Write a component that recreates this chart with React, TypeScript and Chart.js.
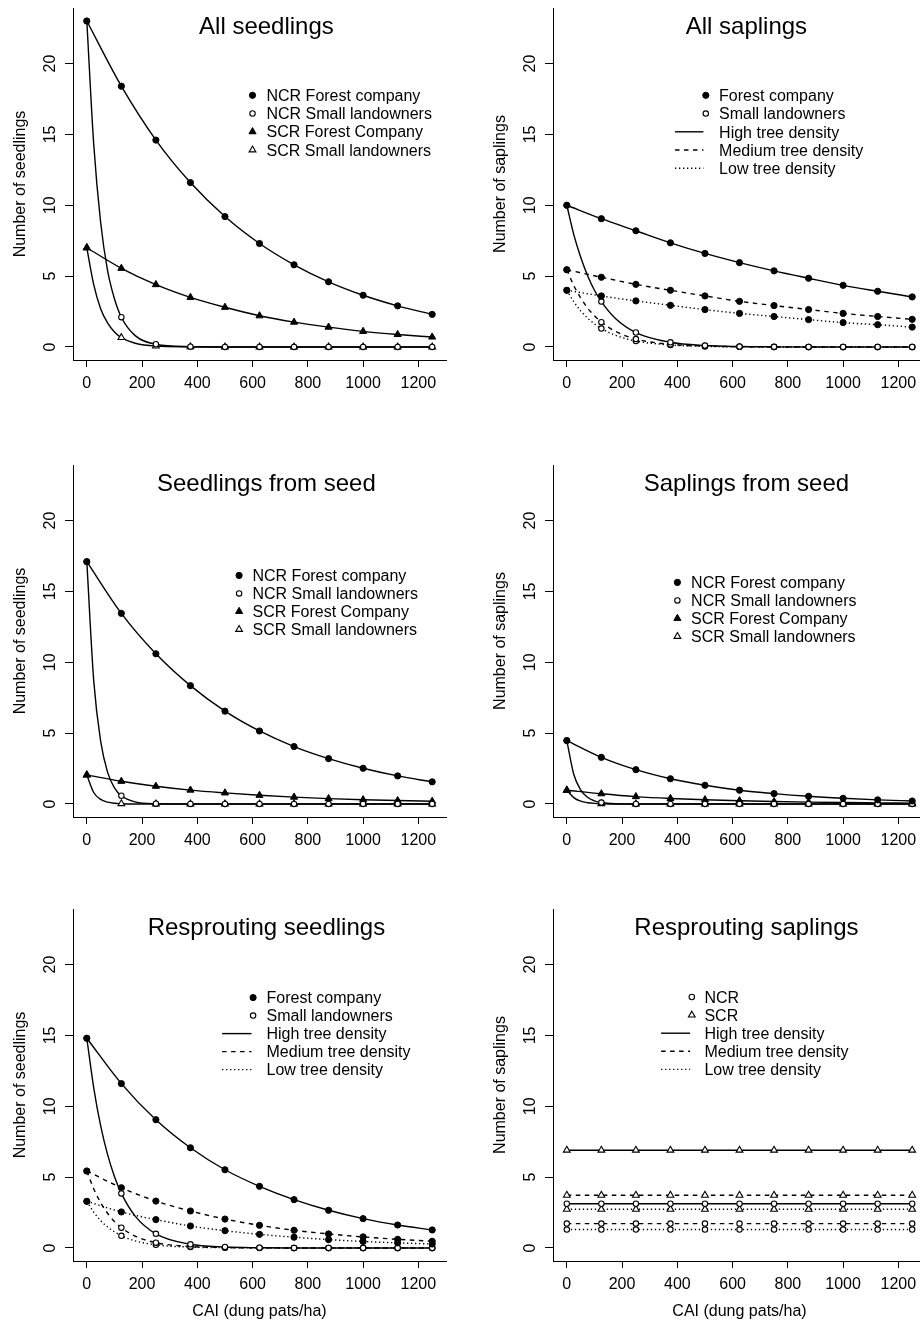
import React, { useEffect, useRef } from 'react';
import { Chart, registerables } from 'chart.js';

Chart.register(...registerables);

// ---------- data ----------
const MARKER_X = [0, 125, 250, 375, 500, 625, 750, 875, 1000, 1125, 1250];
const CURVE_X = [0, 25, 50, 75, 100, 125, 175, 250, 375, 500, 625, 750, 875, 1000, 1125, 1250];
const X_TICKS = [0, 200, 400, 600, 800, 1000, 1200];
const Y_TICKS = [0, 5, 10, 15, 20];
const X_MIN = -50;
const X_MAX = 1300;
const Y_MIN = -0.92;
const Y_MAX = 23.92;
const TITLE_X = 650;

const PANEL_TITLES = [
  'All seedlings',
  'All saplings',
  'Seedlings from seed',
  'Saplings from seed',
  'Resprouting seedlings',
  'Resprouting saplings',
];
const Y_TITLES = [
  'Number of seedlings',
  'Number of saplings',
  'Number of seedlings',
  'Number of saplings',
  'Number of seedlings',
  'Number of saplings',
];
const X_TITLE = 'CAI (dung pats/ha)';

const REGION_LABELS = ['NCR Forest company', 'NCR Small landowners', 'SCR Forest Company', 'SCR Small landowners'];
const OWNER_LABELS = ['Forest company', 'Small landowners'];
const DENSITY_LABELS = ['High tree density', 'Medium tree density', 'Low tree density'];
const ZONE_LABELS = ['NCR', 'SCR'];

// Panel 1: All seedlings
const P1_NCR_FC = [23.0, 18.4, 14.6, 11.6, 9.2, 7.3, 5.8, 4.6, 3.65, 2.9, 2.3];
const P1_NCR_SL = [23.0, 2.1, 0.19, 0.02, 0, 0, 0, 0, 0, 0, 0];
const P1_NCR_SL_CURVE = [23.0, 14.3, 8.8, 5.4, 3.4, 2.1, 0.8, 0.19, 0.02, 0, 0, 0, 0, 0, 0, 0];
const P1_SCR_FC = [7.0, 5.55, 4.4, 3.5, 2.8, 2.2, 1.75, 1.4, 1.1, 0.88, 0.7];
const P1_SCR_SL = [7.0, 0.66, 0.06, 0.01, 0, 0, 0, 0, 0, 0, 0];
const P1_SCR_SL_CURVE = [7.0, 4.4, 2.7, 1.7, 1.06, 0.66, 0.26, 0.06, 0.01, 0, 0, 0, 0, 0, 0, 0];

// Panel 2: All saplings
const P2_FC_HIGH = [10.0, 9.05, 8.2, 7.35, 6.6, 5.95, 5.37, 4.85, 4.35, 3.93, 3.53];
const P2_FC_MED = [5.45, 4.92, 4.42, 4.0, 3.6, 3.22, 2.92, 2.64, 2.37, 2.15, 1.95];
const P2_FC_LOW = [4.0, 3.6, 3.25, 2.94, 2.64, 2.37, 2.15, 1.93, 1.72, 1.57, 1.4];
const P2_SL_HIGH = [10.0, 3.2, 1.02, 0.33, 0.1, 0.03, 0.01, 0, 0, 0, 0];
const P2_SL_HIGH_CURVE = [10.0, 7.95, 6.35, 5.05, 4.0, 3.2, 2.03, 1.02, 0.33, 0.1, 0.03, 0.01, 0, 0, 0, 0];
const P2_SL_MED = [5.45, 1.75, 0.56, 0.18, 0.06, 0.02, 0, 0, 0, 0, 0];
const P2_SL_MED_CURVE = [5.45, 4.34, 3.46, 2.75, 2.2, 1.75, 1.11, 0.56, 0.18, 0.06, 0.02, 0, 0, 0, 0, 0];
const P2_SL_LOW = [4.0, 1.3, 0.42, 0.14, 0.04, 0.01, 0, 0, 0, 0, 0];
const P2_SL_LOW_CURVE = [4.0, 3.2, 2.55, 2.04, 1.63, 1.3, 0.83, 0.42, 0.14, 0.04, 0.01, 0, 0, 0, 0, 0];

// Panel 3: Seedlings from seed
const P3_NCR_FC = [17.1, 13.45, 10.6, 8.35, 6.55, 5.15, 4.05, 3.2, 2.52, 1.98, 1.56];
const P3_NCR_SL = [17.1, 0.58, 0.02, 0, 0, 0, 0, 0, 0, 0, 0];
const P3_NCR_SL_CURVE = [17.1, 8.7, 4.43, 2.25, 1.14, 0.58, 0.15, 0.02, 0, 0, 0, 0, 0, 0, 0, 0];
const P3_SCR_FC = [2.05, 1.6, 1.25, 0.98, 0.78, 0.61, 0.48, 0.38, 0.3, 0.24, 0.19];
const P3_SCR_SL = [2.05, 0.02, 0, 0, 0, 0, 0, 0, 0, 0, 0];
const P3_SCR_SL_CURVE = [2.05, 0.81, 0.32, 0.13, 0.05, 0.02, 0, 0, 0, 0, 0, 0, 0, 0, 0, 0];

// Panel 4: Saplings from seed
const P4_NCR_FC = [4.47, 3.29, 2.42, 1.78, 1.32, 0.97, 0.73, 0.54, 0.4, 0.29, 0.21];
const P4_NCR_SL = [4.47, 0.1, 0, 0, 0, 0, 0, 0, 0, 0, 0];
const P4_NCR_SL_CURVE = [4.47, 2.1, 1.0, 0.47, 0.22, 0.1, 0.02, 0, 0, 0, 0, 0, 0, 0, 0, 0];
const P4_SCR_FC = [0.97, 0.72, 0.52, 0.39, 0.3, 0.23, 0.17, 0.13, 0.1, 0.08, 0.06];
const P4_SCR_SL = [0.97, 0.02, 0, 0, 0, 0, 0, 0, 0, 0, 0];
const P4_SCR_SL_CURVE = [0.97, 0.45, 0.2, 0.09, 0.04, 0.02, 0, 0, 0, 0, 0, 0, 0, 0, 0, 0];

// Panel 5: Resprouting seedlings
const P5_FC_HIGH = [14.8, 11.6, 9.05, 7.07, 5.52, 4.35, 3.41, 2.66, 2.07, 1.62, 1.27];
const P5_FC_MED = [5.43, 4.25, 3.31, 2.61, 2.04, 1.6, 1.25, 0.99, 0.78, 0.61, 0.47];
const P5_FC_LOW = [3.29, 2.54, 2.0, 1.55, 1.22, 0.96, 0.76, 0.59, 0.46, 0.36, 0.28];
const P5_SL_HIGH = [14.8, 3.85, 1.0, 0.26, 0.07, 0.02, 0, 0, 0, 0, 0];
const P5_SL_HIGH_CURVE = [14.8, 11.3, 8.63, 6.6, 5.04, 3.85, 2.25, 1.0, 0.26, 0.07, 0.02, 0, 0, 0, 0, 0];
const P5_SL_MED = [5.43, 1.43, 0.37, 0.1, 0.03, 0.01, 0, 0, 0, 0, 0];
const P5_SL_MED_CURVE = [5.43, 4.18, 3.2, 2.45, 1.87, 1.43, 0.84, 0.37, 0.1, 0.03, 0.01, 0, 0, 0, 0, 0];
const P5_SL_LOW = [3.29, 0.86, 0.22, 0.06, 0.02, 0, 0, 0, 0, 0, 0];
const P5_SL_LOW_CURVE = [3.29, 2.53, 1.94, 1.49, 1.14, 0.86, 0.5, 0.22, 0.06, 0.02, 0, 0, 0, 0, 0, 0];

// Panel 6: Resprouting saplings
const P6_SCR_HIGH = [6.9, 6.9, 6.9, 6.9, 6.9, 6.9, 6.9, 6.9, 6.9, 6.9, 6.9];
const P6_SCR_MED = [3.72, 3.72, 3.72, 3.72, 3.72, 3.72, 3.72, 3.72, 3.72, 3.72, 3.72];
const P6_NCR_HIGH = [3.12, 3.12, 3.12, 3.12, 3.12, 3.12, 3.12, 3.12, 3.12, 3.12, 3.12];
const P6_SCR_LOW = [2.73, 2.73, 2.73, 2.73, 2.73, 2.73, 2.73, 2.73, 2.73, 2.73, 2.73];
const P6_NCR_MED = [1.72, 1.72, 1.72, 1.72, 1.72, 1.72, 1.72, 1.72, 1.72, 1.72, 1.72];
const P6_NCR_LOW = [1.3, 1.3, 1.3, 1.3, 1.3, 1.3, 1.3, 1.3, 1.3, 1.3, 1.3];

// ---------- styles ----------
type PointKind = 'cf' | 'co' | 'tf' | 'to';
type DashKind = 'solid' | 'dashed' | 'dotted';

const FONT = '"Liberation Sans", Arial, Helvetica, sans-serif';
const INK = '#000';
const LINE_W = 1.4;
const DASH: Record<DashKind, number[]> = { solid: [], dashed: [4.5, 4.5], dotted: [1.3, 2.7] };
const POINT: Record<PointKind, any> = {
  cf: { pointStyle: 'circle', radius: 3.1, bg: '#000', bw: 1 },
  co: { pointStyle: 'circle', radius: 2.7, bg: '#fff', bw: 1.1 },
  tf: { pointStyle: 'triangle', radius: 4.1, bg: '#000', bw: 1 },
  to: { pointStyle: 'triangle', radius: 3.9, bg: '#fff', bw: 1.1 },
};

const YW = 73;
const XH = 70;
const PLOT_W = 373;
const PLOT_H = 352;
const PAD_R = 10;
const COL_LEFT = [0, 480];
const ROW_TOP = [0, 440, 880];
const ROW_PAD = [8, 25, 29];

interface Series { markers: number[]; curve?: number[]; point: PointKind; dash: DashKind; }
interface LegendEntry { label: string; point?: PointKind; dash?: DashKind; }
interface LegendCfg { symX: number; textX: number; lineX0: number; lineX1: number; y0: number; dy: number; entries: LegendEntry[]; }
interface PanelCfg { idx: number; col: number; row: number; series: Series[]; legend: LegendCfg; xTitle: boolean; }

const regionLegend = (symX: number, textX: number, y0: number, dy: number): LegendCfg => ({
  symX, textX, lineX0: 0, lineX1: 0, y0, dy,
  entries: [
    { label: REGION_LABELS[0], point: 'cf' },
    { label: REGION_LABELS[1], point: 'co' },
    { label: REGION_LABELS[2], point: 'tf' },
    { label: REGION_LABELS[3], point: 'to' },
  ],
});
const densityLegend = (names: string[], pts: PointKind[], symX: number, textX: number, lineX0: number, lineX1: number, y0: number, dy: number): LegendCfg => ({
  symX, textX, lineX0, lineX1, y0, dy,
  entries: [
    { label: names[0], point: pts[0] },
    { label: names[1], point: pts[1] },
    { label: DENSITY_LABELS[0], dash: 'solid' },
    { label: DENSITY_LABELS[1], dash: 'dashed' },
    { label: DENSITY_LABELS[2], dash: 'dotted' },
  ],
});

const PANELS: PanelCfg[] = [
  {
    idx: 0, col: 0, row: 0, xTitle: false,
    series: [
      { markers: P1_NCR_FC, point: 'cf', dash: 'solid' },
      { markers: P1_NCR_SL, curve: P1_NCR_SL_CURVE, point: 'co', dash: 'solid' },
      { markers: P1_SCR_FC, point: 'tf', dash: 'solid' },
      { markers: P1_SCR_SL, curve: P1_SCR_SL_CURVE, point: 'to', dash: 'solid' },
    ],
    legend: regionLegend(179.5, 193.5, 87.3, 18.2),
  },
  {
    idx: 1, col: 1, row: 0, xTitle: false,
    series: [
      { markers: P2_FC_HIGH, point: 'cf', dash: 'solid' },
      { markers: P2_FC_MED, point: 'cf', dash: 'dashed' },
      { markers: P2_FC_LOW, point: 'cf', dash: 'dotted' },
      { markers: P2_SL_HIGH, curve: P2_SL_HIGH_CURVE, point: 'co', dash: 'solid' },
      { markers: P2_SL_MED, curve: P2_SL_MED_CURVE, point: 'co', dash: 'dashed' },
      { markers: P2_SL_LOW, curve: P2_SL_LOW_CURVE, point: 'co', dash: 'dotted' },
    ],
    legend: densityLegend(OWNER_LABELS, ['cf', 'co'], 152.8, 166.1, 122, 150.4, 87.3, 18.25),
  },
  {
    idx: 2, col: 0, row: 1, xTitle: false,
    series: [
      { markers: P3_NCR_FC, point: 'cf', dash: 'solid' },
      { markers: P3_NCR_SL, curve: P3_NCR_SL_CURVE, point: 'co', dash: 'solid' },
      { markers: P3_SCR_FC, point: 'tf', dash: 'solid' },
      { markers: P3_SCR_SL, curve: P3_SCR_SL_CURVE, point: 'to', dash: 'solid' },
    ],
    legend: regionLegend(166.1, 179.5, 110.4, 18),
  },
  {
    idx: 3, col: 1, row: 1, xTitle: false,
    series: [
      { markers: P4_NCR_FC, point: 'cf', dash: 'solid' },
      { markers: P4_NCR_SL, curve: P4_NCR_SL_CURVE, point: 'co', dash: 'solid' },
      { markers: P4_SCR_FC, point: 'tf', dash: 'solid' },
      { markers: P4_SCR_SL, curve: P4_SCR_SL_CURVE, point: 'to', dash: 'solid' },
    ],
    legend: regionLegend(124.4, 138.1, 117.4, 18),
  },
  {
    idx: 4, col: 0, row: 2, xTitle: true,
    series: [
      { markers: P5_FC_HIGH, point: 'cf', dash: 'solid' },
      { markers: P5_FC_MED, point: 'cf', dash: 'dashed' },
      { markers: P5_FC_LOW, point: 'cf', dash: 'dotted' },
      { markers: P5_SL_HIGH, curve: P5_SL_HIGH_CURVE, point: 'co', dash: 'solid' },
      { markers: P5_SL_MED, curve: P5_SL_MED_CURVE, point: 'co', dash: 'dashed' },
      { markers: P5_SL_LOW, curve: P5_SL_LOW_CURVE, point: 'co', dash: 'dotted' },
    ],
    legend: densityLegend(OWNER_LABELS, ['cf', 'co'], 180.1, 193.5, 149.1, 178.5, 88.6, 18),
  },
  {
    idx: 5, col: 1, row: 2, xTitle: true,
    series: [
      { markers: P6_SCR_HIGH, point: 'to', dash: 'solid' },
      { markers: P6_SCR_MED, point: 'to', dash: 'dashed' },
      { markers: P6_NCR_HIGH, point: 'co', dash: 'solid' },
      { markers: P6_SCR_LOW, point: 'to', dash: 'dotted' },
      { markers: P6_NCR_MED, point: 'co', dash: 'dashed' },
      { markers: P6_NCR_LOW, point: 'co', dash: 'dotted' },
    ],
    legend: densityLegend(ZONE_LABELS, ['co', 'to'], 138.8, 151.4, 108.1, 137.1, 88, 18.1),
  },
];

// ---------- drawing helpers ----------
function drawMarker(ctx: CanvasRenderingContext2D, x: number, y: number, kind: PointKind) {
  const p = POINT[kind];
  const r = p.radius;
  ctx.save();
  ctx.beginPath();
  if (p.pointStyle === 'circle') {
    ctx.arc(x, y, r, 0, Math.PI * 2);
  } else {
    const a = (2 * Math.PI) / 3;
    for (let i = 0; i < 3; i++) {
      const rad = i * a;
      const px = x + Math.sin(rad) * r;
      const py = y - Math.cos(rad) * r;
      if (i === 0) ctx.moveTo(px, py); else ctx.lineTo(px, py);
    }
    ctx.closePath();
  }
  ctx.fillStyle = p.bg;
  ctx.fill();
  ctx.lineWidth = p.bw;
  ctx.strokeStyle = INK;
  ctx.stroke();
  ctx.restore();
}

function overlayPlugin(cfg: PanelCfg) {
  return {
    id: 'overlay' + cfg.idx,
    afterDraw(chart: any) {
      const ctx: CanvasRenderingContext2D = chart.ctx;
      const { left, top, right, bottom } = chart.chartArea;
      const xs = chart.scales.x;
      const ys = chart.scales.y;
      ctx.save();
      ctx.fillStyle = INK;
      ctx.font = `16px ${FONT}`;
      ctx.textBaseline = 'alphabetic';
      ctx.textAlign = 'center';
      // x tick labels
      X_TICKS.forEach((v) => ctx.fillText(String(v), xs.getPixelForValue(v), bottom + 27.7));
      // y tick labels (rotated, R style)
      Y_TICKS.forEach((v) => {
        ctx.save();
        ctx.translate(left - 18.3, ys.getPixelForValue(v));
        ctx.rotate(-Math.PI / 2);
        ctx.fillText(String(v), 0, 0);
        ctx.restore();
      });
      // y axis title
      ctx.save();
      ctx.translate(left - 48, (top + bottom) / 2);
      ctx.rotate(-Math.PI / 2);
      ctx.fillText(Y_TITLES[cfg.idx], 0, 0);
      ctx.restore();
      // x axis title
      if (cfg.xTitle) ctx.fillText(X_TITLE, (left + right) / 2, bottom + 55);
      // legend
      const lg = cfg.legend;
      ctx.textAlign = 'left';
      lg.entries.forEach((e, i) => {
        const cy = top + lg.y0 + i * lg.dy;
        if (e.point) {
          drawMarker(ctx, left + lg.symX, cy, e.point);
        } else if (e.dash) {
          ctx.save();
          ctx.setLineDash(DASH[e.dash]);
          ctx.lineWidth = LINE_W;
          ctx.strokeStyle = INK;
          ctx.beginPath();
          ctx.moveTo(left + lg.lineX0, cy);
          ctx.lineTo(left + lg.lineX1, cy);
          ctx.stroke();
          ctx.restore();
        }
        ctx.fillStyle = INK;
        ctx.fillText(e.label, left + lg.textX, cy + 5.7);
      });
      // panel title
      ctx.textAlign = 'center';
      ctx.font = `24px ${FONT}`;
      ctx.fillText(PANEL_TITLES[cfg.idx], xs.getPixelForValue(TITLE_X), top + 26.3);
      ctx.restore();
    },
  };
}

function buildDatasets(cfg: PanelCfg) {
  const lines = cfg.series.map((s) => {
    const xs = s.curve ? CURVE_X : MARKER_X;
    const ys = s.curve ? s.curve : s.markers;
    return {
      type: 'line',
      data: xs.map((x, i) => ({ x, y: ys[i] })),
      borderColor: INK,
      borderWidth: LINE_W,
      borderDash: DASH[s.dash],
      cubicInterpolationMode: 'monotone',
      pointRadius: 0,
      fill: false,
      order: 2,
    };
  });
  const marks = cfg.series.map((s) => {
    const p = POINT[s.point];
    return {
      type: 'line',
      data: MARKER_X.map((x, i) => ({ x, y: s.markers[i] })),
      showLine: false,
      pointStyle: p.pointStyle,
      pointRadius: p.radius,
      pointBackgroundColor: p.bg,
      pointBorderColor: INK,
      pointBorderWidth: p.bw,
      borderColor: INK,
      order: 1,
    };
  });
  return [...lines, ...marks];
}

function Panel({ cfg }: { cfg: PanelCfg }) {
  const ref = useRef<HTMLCanvasElement>(null);
  const padTop = ROW_PAD[cfg.row];
  const W = YW + PLOT_W + PAD_R;
  const H = padTop + PLOT_H + XH;
  useEffect(() => {
    const canvas = ref.current;
    if (!canvas) return;
    const tickFix = (vals: number[]) => (scale: any) => {
      scale.ticks = vals.map((v) => ({ value: v }));
    };
    const chart = new Chart(canvas, {
      type: 'line',
      data: { datasets: buildDatasets(cfg) as any },
      options: {
        animation: false,
        responsive: false,
        maintainAspectRatio: false,
        devicePixelRatio: 1,
        events: [],
        layout: { padding: { top: padTop, right: PAD_R, left: 0, bottom: 0 } },
        plugins: { legend: { display: false }, tooltip: { enabled: false }, title: { display: false } },
        scales: {
          x: {
            type: 'linear',
            min: X_MIN,
            max: X_MAX,
            afterBuildTicks: tickFix(X_TICKS),
            afterFit: (s: any) => { s.height = XH; },
            ticks: { display: false },
            grid: { drawOnChartArea: false, drawTicks: true, tickLength: 7, color: INK, lineWidth: 1 },
            border: { display: true, color: INK, width: 1 },
          },
          y: {
            type: 'linear',
            min: Y_MIN,
            max: Y_MAX,
            afterBuildTicks: tickFix(Y_TICKS),
            afterFit: (s: any) => { s.width = YW; },
            ticks: { display: false },
            grid: { drawOnChartArea: false, drawTicks: true, tickLength: 8, color: INK, lineWidth: 1 },
            border: { display: true, color: INK, width: 1 },
          },
        },
      } as any,
      plugins: [overlayPlugin(cfg)],
    });
    return () => chart.destroy();
  }, []);
  return (
    <canvas
      ref={ref}
      width={W}
      height={H}
      style={{ position: 'absolute', left: COL_LEFT[cfg.col], top: ROW_TOP[cfg.row], width: W, height: H }}
    />
  );
}

export default function App() {
  return (
    <div style={{ position: 'absolute', left: 0, top: 0, width: 920, height: 1326, overflow: 'hidden', background: '#fff' }}>
      {PANELS.map((p) => (
        <Panel key={p.idx} cfg={p} />
      ))}
    </div>
  );
}
